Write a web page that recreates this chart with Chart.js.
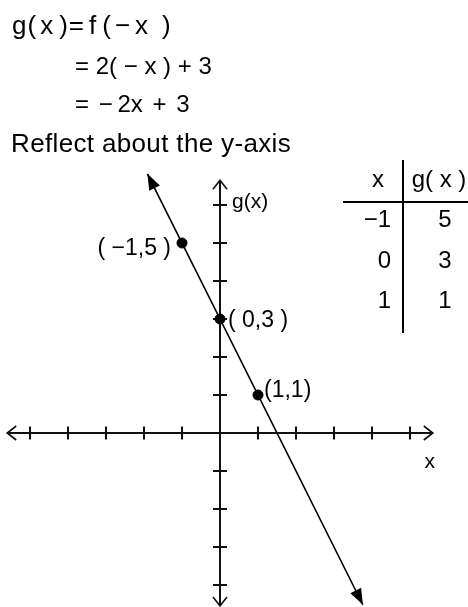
<!DOCTYPE html>
<html>
<head>
<meta charset="utf-8">
<script src="https://cdn.jsdelivr.net/npm/chart.js@4.4.1/dist/chart.umd.min.js"></script>
<style>
  html, body { margin: 0; padding: 0; background: #fff; }
  #wrap { position: relative; width: 468px; height: 607px; overflow: hidden;
          font-family: "Liberation Sans", Arial, sans-serif; color: #000; }
  #graph { position: absolute; left: 0; top: 0; }
  .t { position: absolute; white-space: pre; line-height: 1; }
  .rule { position: absolute; background: #000; }
</style>
</head>
<body>
<div id="wrap">
  <canvas id="graph" width="468" height="607"></canvas>
  <div class="t" style="left:12px;top:12px;font-size:26px">g<span style="margin-left:1px">(</span><span style="margin-left:4px">x</span><span style="margin-left:6px">)</span><span style="margin-left:1px">=</span><span style="margin-left:5px">f</span><span style="margin-left:6px">(</span><span style="margin-left:4px">−</span><span style="margin-left:5px">x</span><span style="margin-left:14px">)</span></div>
  <div class="t" style="left:75px;top:53.7px;font-size:24px">= 2( − x ) + 3</div>
  <div class="t" style="left:75px;top:91.7px;font-size:24px;word-spacing:3px">= −&#8201;2x + 3</div>
  <div class="t" style="left:11px;top:130px;font-size:26px;letter-spacing:0.35px">Reflect about the y-axis</div>
  <div id="table"></div>
</div>
<script>
// g(x) = f(-x) = -2x + 3 : table of values
const tableX = [-1, 0, 1];
const tableG = [5, 3, 1];

// ends of the drawn line (arrow tips)
const lineX = [-1.91, 3.76];
const lineY = [6.82, -4.52];

// axis extents and tick values
const xAxisSpan = [-5.6, 5.6];
const yAxisSpan = [-4.55, 6.65];
const xTicks = [-5, -4, -3, -2, -1, 1, 2, 3, 4, 5];
const yTicks = [-4, -3, -2, -1, 1, 2, 3, 4, 5, 6];

// visible window of the coordinate plane
const view = { xMin: -220 / 38, xMax: 248 / 38, yMin: -174 / 38, yMax: 433 / 38 };

const fmt = v => (v < 0 ? '\u2212' : '') + Math.abs(v);

// ---- table of values (HTML) ----
const tbl = document.getElementById('table');
function put(text, left, baseline, size, align) {
  const d = document.createElement('div');
  d.className = 't';
  d.textContent = text;
  d.style.fontSize = size + 'px';
  d.style.top = (baseline - 0.8465 * size) + 'px';
  if (align === 'right') { d.style.right = (468 - left) + 'px'; }
  else if (align === 'center') { d.style.left = left + 'px'; d.style.transform = 'translateX(-50%)'; }
  else d.style.left = left + 'px';
  tbl.appendChild(d);
}
put('x', 378, 187, 24, 'center');
put('g( x )', 439, 187, 24, 'center');
const rowBase = [227, 268, 308];
tableX.forEach((v, i) => {
  put(fmt(v), 391, rowBase[i], 24, 'right');
  put(String(tableG[i]), 445, rowBase[i], 24, 'center');
});
const vr = document.createElement('div');
vr.className = 'rule';
Object.assign(vr.style, { left: '402px', top: '160px', width: '2px', height: '173px' });
tbl.appendChild(vr);
const hr = document.createElement('div');
hr.className = 'rule';
Object.assign(hr.style, { left: '343px', top: '201px', width: '125px', height: '2px' });
tbl.appendChild(hr);

// ---- coordinate plane (Chart.js) ----
function seg(ctx, x1, y1, x2, y2) {
  ctx.beginPath(); ctx.moveTo(x1, y1); ctx.lineTo(x2, y2); ctx.stroke();
}
function chevron(ctx, tx, ty, dx, dy) {
  // open arrow head with tip at (tx,ty) pointing along (dx,dy)
  const len = 9, half = 7;
  const bx = tx - dx * len, by = ty - dy * len;
  ctx.beginPath();
  ctx.moveTo(bx - dy * half, by + dx * half);
  ctx.lineTo(tx, ty);
  ctx.lineTo(bx + dy * half, by - dx * half);
  ctx.stroke();
}
function solidHead(ctx, tx, ty, ux, uy) {
  const len = 16, half = 6;
  const bx = tx - ux * len, by = ty - uy * len;
  ctx.beginPath();
  ctx.moveTo(tx, ty);
  ctx.lineTo(bx - uy * half, by + ux * half);
  ctx.lineTo(bx + uy * half, by - ux * half);
  ctx.closePath();
  ctx.fill();
}

const planePlugin = {
  id: 'plane',
  beforeDatasetsDraw(chart) {
    const { ctx, scales: { x, y } } = chart;
    const x0 = x.getPixelForValue(0), y0 = y.getPixelForValue(0);
    ctx.save();
    ctx.strokeStyle = '#111';
    ctx.lineWidth = 2;
    const xl = x.getPixelForValue(xAxisSpan[0]), xr = x.getPixelForValue(xAxisSpan[1]);
    const yt = y.getPixelForValue(yAxisSpan[1]), yb = y.getPixelForValue(yAxisSpan[0]);
    seg(ctx, xl, y0, xr, y0);
    seg(ctx, x0, yt, x0, yb);
    xTicks.forEach(v => { const p = x.getPixelForValue(v); seg(ctx, p, y0 - 6.5, p, y0 + 6.5); });
    yTicks.forEach(v => { const p = y.getPixelForValue(v); seg(ctx, x0 - 7, p, x0 + 7, p); });
    ctx.lineWidth = 1.6;
    chevron(ctx, xl, y0, -1, 0);
    chevron(ctx, xr, y0, 1, 0);
    chevron(ctx, x0, yt, 0, -1);
    chevron(ctx, x0, yb, 0, 1);
    // axis names
    ctx.fillStyle = '#000';
    ctx.textBaseline = 'alphabetic';
    ctx.font = '21px "Liberation Sans", Arial, sans-serif';
    ctx.textAlign = 'left';
    ctx.fillText('g(x)', x0 + 12, y.getPixelForValue(yTicks[yTicks.length - 1]) + 3);
    ctx.textAlign = 'center';
    ctx.fillText('x', xr - 3, y0 + 35);
    ctx.restore();
  },
  afterDatasetsDraw(chart) {
    const { ctx } = chart;
    const pts = chart.getDatasetMeta(0).data;
    ctx.save();
    ctx.fillStyle = '#000';
    const a = pts[0], b = pts[pts.length - 1];
    const dx = b.x - a.x, dy = b.y - a.y, L = Math.hypot(dx, dy);
    solidHead(ctx, a.x, a.y, -dx / L, -dy / L);
    solidHead(ctx, b.x, b.y, dx / L, dy / L);
    // point labels
    const dots = chart.getDatasetMeta(1).data;
    const offs = [[-11, 12, 'right'], [8, 8, 'left'], [6, 2, 'left']];
    ctx.font = '23px "Liberation Sans", Arial, sans-serif';
    ctx.textBaseline = 'alphabetic';
    dots.forEach((p, i) => {
      const raw = chart.data.datasets[1].data[i];
      const txt = raw.x > 0 ? '(' + fmt(raw.x) + ',' + fmt(raw.y) + ')'
                : '( ' + fmt(raw.x) + ',' + fmt(raw.y) + ' )';
      ctx.textAlign = offs[i][2];
      ctx.fillText(txt, p.x + offs[i][0], p.y + offs[i][1]);
    });
    ctx.restore();
  }
};

new Chart(document.getElementById('graph'), {
  type: 'scatter',
  data: {
    datasets: [
      {
        type: 'line',
        data: lineX.map((v, i) => ({ x: v, y: lineY[i] })),
        borderColor: '#000',
        borderWidth: 1.6,
        pointRadius: 0,
        fill: false
      },
      {
        data: tableX.map((v, i) => ({ x: v, y: tableG[i] })),
        backgroundColor: '#000',
        borderColor: '#000',
        pointRadius: 5,
        pointHoverRadius: 5
      }
    ]
  },
  options: {
    responsive: false,
    animation: false,
    devicePixelRatio: 1,
    layout: { padding: 0, autoPadding: false },
    plugins: { legend: { display: false }, tooltip: { enabled: false } },
    events: [],
    scales: {
      x: { type: 'linear', min: view.xMin, max: view.xMax, display: false },
      y: { type: 'linear', min: view.yMin, max: view.yMax, display: false }
    }
  },
  plugins: [planePlugin]
});
</script>
</body>
</html>
